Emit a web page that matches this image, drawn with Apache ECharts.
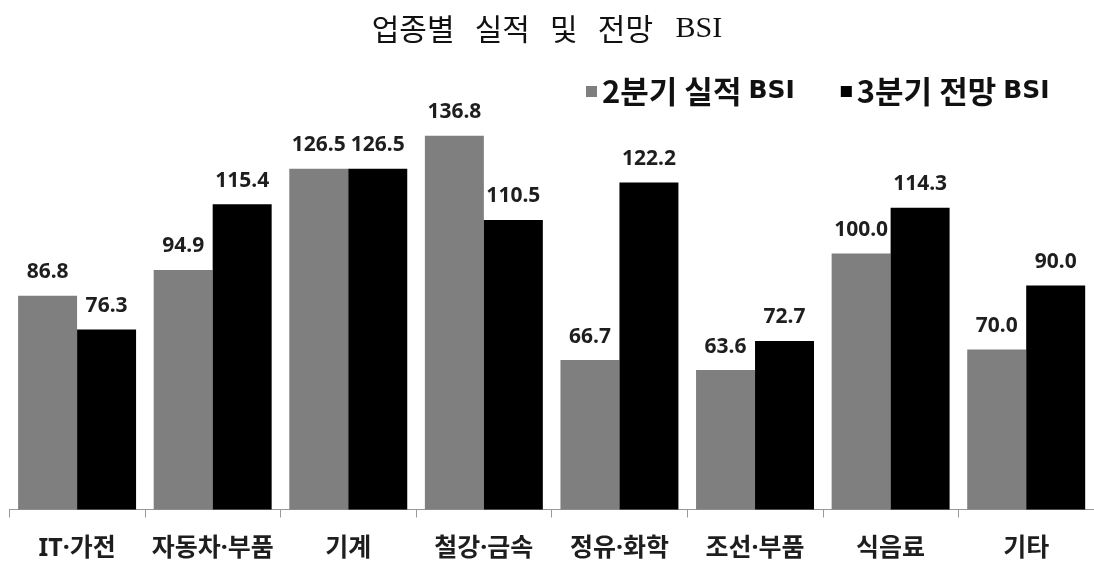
<!DOCTYPE html>
<html>
<head>
<meta charset="utf-8">
<script src="https://cdn.jsdelivr.net/npm/echarts@6/dist/echarts.min.js"></script>
<style>
html,body{margin:0;padding:0;background:#fff;}
#c{width:1094px;height:564px;}
</style>
</head>
<body>
<div id="c"></div>
<script>
var categories = ['IT·가전', '자동차·부품', '기계', '철강·금속', '정유·화학', '조선·부품', '식음료', '기타'];
var seriesNames = ['2분기 실적 BSI', '3분기 전망 BSI'];
var actualQ2 = [86.8, 94.9, 126.5, 136.8, 66.7, 63.6, 100.0, 70.0];
var outlookQ3 = [76.3, 115.4, 126.5, 110.5, 122.2, 72.7, 114.3, 90.0];

var chart = echarts.init(document.getElementById('c'), null, {renderer: 'canvas'});

var labelStyle = {
  show: true,
  position: 'top',
  distance: 13,
  fontFamily: 'Noto Sans',
  fontWeight: 'bold',
  fontSize: 21,
  color: '#1e1e1e',
  formatter: function (p) { return p.value.toFixed(1); }
};

chart.setOption({
  backgroundColor: '#ffffff',
  animation: false,
  title: {
    text: '{h|업종별   실적   및   전망}{s|   BSI}',
    left: 'center',
    top: 9,
    textStyle: {
      rich: {
        h: {fontFamily: 'Noto Sans CJK KR', fontSize: 30, fontWeight: 'normal', color: '#111'},
        s: {fontFamily: 'Liberation Serif', fontSize: 30, fontWeight: 'normal', color: '#111'}
      }
    }
  },
  legend: {
    left: 586,
    top: 76,
    itemWidth: 11,
    itemHeight: 11,
    itemGap: 46,
    icon: 'rect',
    padding: 0,
    data: seriesNames,
    formatter: function (name) {
      var parts = name.split(' BSI');
      return '{a|' + parts[0] + ' }{b|BSI}';
    },
    textStyle: {
      rich: {
        a: {fontFamily: 'Noto Sans CJK KR', fontSize: 31, fontWeight: 'bold', color: '#111', lineHeight: 30},
        b: {fontFamily: 'DejaVu Sans', fontSize: 25, fontWeight: 'bold', color: '#111', lineHeight: 30}
      }
    }
  },
  grid: {
    left: 9.3,
    right: -6.6,
    top: 125.6,
    bottom: 54.5,
    containLabel: false
  },
  xAxis: {
    type: 'category',
    data: categories,
    axisLine: {show: true, lineStyle: {color: '#999', width: 1}},
    axisTick: {show: true, length: 8, lineStyle: {color: '#999'}},
    axisLabel: {
      interval: 0,
      margin: 27,
      fontFamily: 'Noto Sans, Noto Sans CJK KR',
      fontWeight: 'bold',
      fontSize: 25,
      color: '#1e1e1e'
    }
  },
  yAxis: {
    type: 'value',
    min: 20,
    max: 140,
    interval: 20,
    show: false,
    splitLine: {show: false}
  },
  series: [
    {
      name: seriesNames[0],
      type: 'bar',
      data: actualQ2,
      barGap: '0%',
      barCategoryGap: '13%',
      itemStyle: {color: '#7f7f7f'},
      label: labelStyle
    },
    {
      name: seriesNames[1],
      type: 'bar',
      data: outlookQ3,
      barGap: '0%',
      barCategoryGap: '13%',
      itemStyle: {color: '#000000'},
      label: labelStyle
    }
  ]
});
</script>
</body>
</html>
